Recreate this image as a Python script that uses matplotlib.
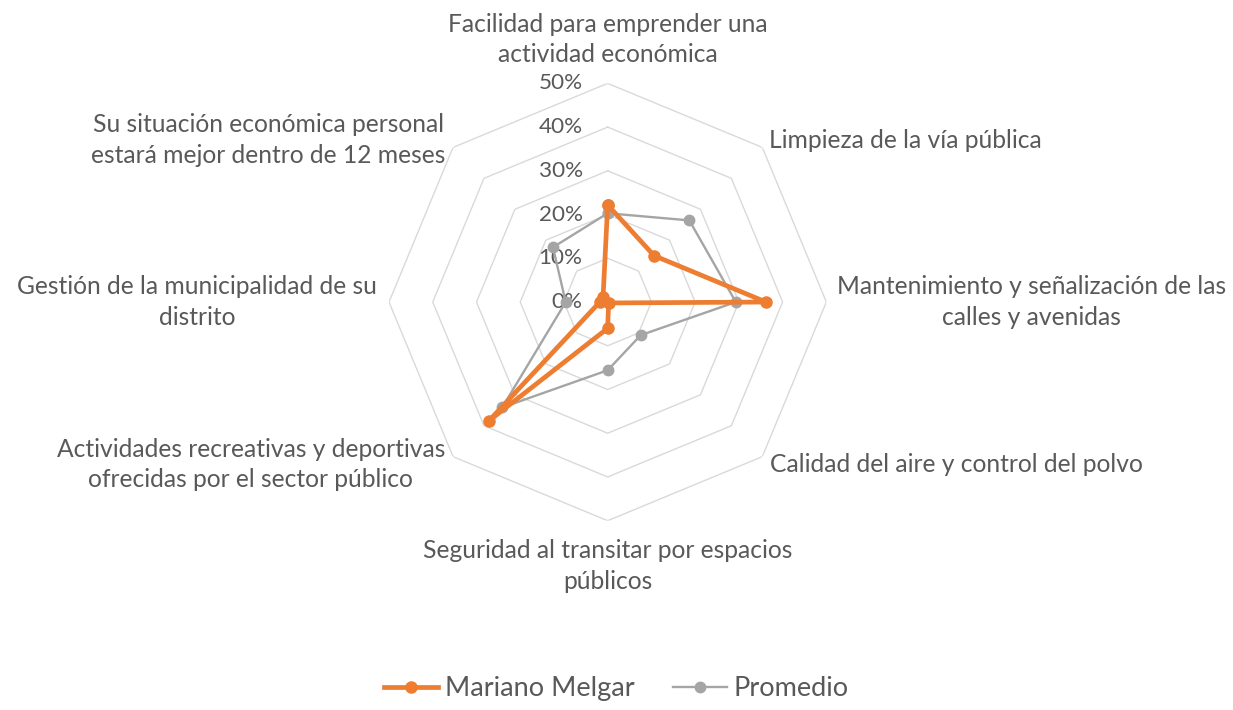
import matplotlib.pyplot as plt
import numpy as np

plt.rcParams['font.family'] = ['Lato', 'DejaVu Sans']

categories = [
    "Facilidad para emprender una\nactividad económica",
    "Limpieza de la vía pública",
    "Mantenimiento y señalización de las\ncalles y avenidas",
    "Calidad del aire y control del polvo",
    "Seguridad al transitar por espacios\npúblicos",
    "Actividades recreativas y deportivas\nofrecidas por el sector público",
    "Gestión de la municipalidad de su\ndistrito",
    "Su situación económica personal\nestará mejor dentro de 12 meses",
]
mariano_melgar = [22.2, 15.0, 36.2, 0.3, 6.0, 38.5, 1.8, 1.5]
promedio = [20.3, 26.4, 29.3, 10.7, 15.6, 34.1, 9.6, 17.7]
r_ticks = [0, 10, 20, 30, 40, 50]

TEXT = '#595959'
ORANGE = '#ED7D31'
GRAY = '#A5A5A5'
GRID = '#D9D9D9'

n = len(categories)
angles = np.linspace(0, 2 * np.pi, n, endpoint=False)
ang_c = np.append(angles, angles[0])

fig = plt.figure(figsize=(12.33, 7.10), dpi=100)
ax = fig.add_axes([0.3155, 0.2666, 0.3547, 0.616], projection='polar')
ax.set_theta_zero_location('N')
ax.set_theta_direction(-1)
ax.set_ylim(0, 50)
ax.grid(False)
ax.spines['polar'].set_visible(False)
ax.set_xticks([])
ax.set_yticks([])
ax.patch.set_alpha(0)

# octagon grid
for r in r_ticks[1:]:
    ax.plot(ang_c, [r] * (n + 1), color=GRID, linewidth=1.0, zorder=1)

for r in r_ticks:
    ax.annotate(f"{r}%", xy=(0, r), xytext=(-25, 0), textcoords='offset pixels',
                ha='right', va='center', fontsize=16.2, color=TEXT, zorder=2)

ax.plot(ang_c, promedio + promedio[:1], color=GRAY, linewidth=1.7,
        marker='o', markersize=7.5, label='Promedio', zorder=3)
ax.plot(ang_c, mariano_melgar + mariano_melgar[:1], color=ORANGE, linewidth=3.4,
        marker='o', markersize=8, label='Mariano Melgar', zorder=4)

# category labels
label_r = [60, 52.1, 52.4, 52.6, 60.4, 52.6, 52.8, 52.4]
label_ha = ['center', 'left', 'left', 'left', 'center', 'right', 'right', 'right']
for a, txt, r, ha in zip(angles, categories, label_r, label_ha):
    ax.text(a, r, txt, ha=ha, va='center', multialignment='center',
            fontsize=17.7, color=TEXT, linespacing=1.4, clip_on=False)

handles, labels = ax.get_legend_handles_labels()
leg = fig.legend(handles[::-1], labels[::-1], loc='center', bbox_to_anchor=(0.5, 0.03),
                 ncol=2, frameon=False, fontsize=19.5, handlelength=2.0,
                 handletextpad=0.25, columnspacing=1.4, borderpad=0.1)
for t in leg.get_texts():
    t.set_color(TEXT)

fig.savefig("out.png", dpi=100)
